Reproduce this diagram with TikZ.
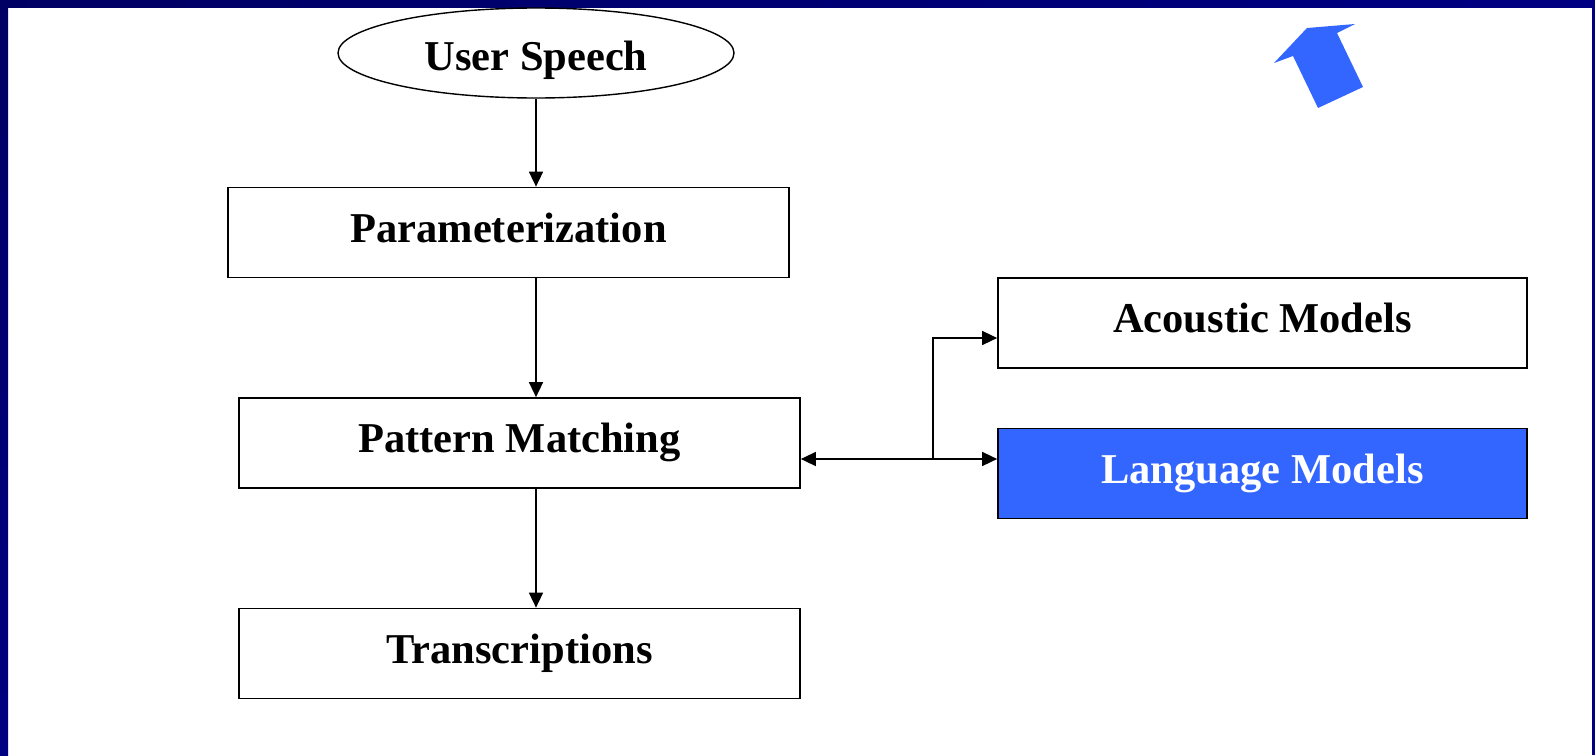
\documentclass[tikz,border=0pt]{standalone}
\usepackage{fontspec}
\setmainfont{Liberation Serif}
\usetikzlibrary{arrows.meta,shapes.geometric}

\definecolor{framedark}{RGB}{0,0,100}
\definecolor{framemid}{RGB}{0,0,130}
\definecolor{hiblue}{RGB}{51,102,255}

\tikzset{
  labelfont/.style={font=\fontsize{42.5}{50}\selectfont\bfseries},
  stagebox/.style={draw=black, line width=1.7pt, fill=white, inner sep=0pt,
    minimum width=561pt, minimum height=90pt, labelfont,
    text height=30pt, text depth=11pt},
  modelbox/.style={stagebox, minimum width=529pt},
  flow/.style={line width=1.5pt, -{Triangle[length=15pt,width=14pt]}},
}

\begin{document}
\begin{tikzpicture}[x=1pt,y=-1pt]
  \useasboundingbox (0,0) rectangle (1595,755);
  \fill[white] (0,0) rectangle (1595,755);

  % slide frame
  \shade[top color=framedark, bottom color=framemid] (0,0) rectangle (8,755);
  \shade[left color=framedark, right color=framemid] (0,0) rectangle (1595,7);
  \fill[framemid] (1592,0) rectangle (1595,755);

  % pointer arrow
  \fill[hiblue] (1274,63) -- (1307,28) -- (1355,24) -- (1337,33)
    -- (1363,87) -- (1318,108) -- (1293,56) -- cycle;

  % processing chain
  \node[ellipse, draw=black, line width=1.4pt, fill=white, inner sep=0pt,
        minimum width=396pt, minimum height=90pt, labelfont,
        text height=34pt, text depth=0pt] (us) at (536,53) {User Speech};
  \node[stagebox] (pa) at (508.5,232.5) {Parameterization};
  \node[stagebox] (pm) at (519.5,443) {Pattern Matching};
  \node[stagebox] (tr) at (519.5,653.5) {Transcriptions};

  % model stores
  \node[modelbox] (am) at (1262.5,323) {Acoustic Models};
  \node[modelbox, fill=hiblue, text=white] (lm) at (1262.5,473.5) {Language Models};

  % vertical flow
  \draw[flow] (us.south) -- (us.south |- pa.north);
  \draw[flow] (pa.south -| us.south) -- (pm.north -| us.south);
  \draw[flow] (pm.south -| us.south) -- (tr.north -| us.south);

  % links to the models
  \coordinate (j) at (933,459);
  \coordinate (ja) at (933,338);
  \draw[flow] (j) -- (pm.east |- j);
  \draw[flow] (j) -- (lm.west |- j);
  \draw[flow] (j) -- (ja) -- (am.west |- ja);
\end{tikzpicture}
\end{document}
